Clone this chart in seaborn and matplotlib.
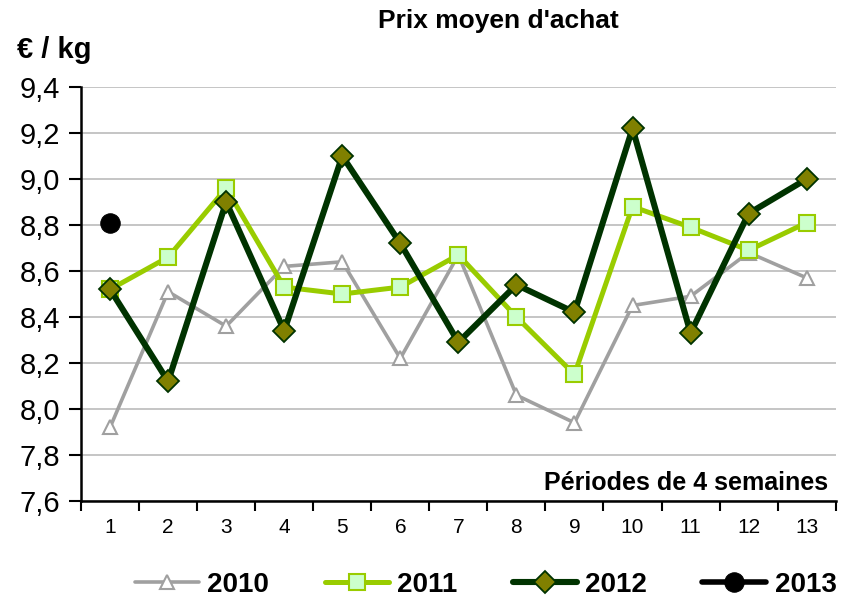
import matplotlib
matplotlib.use("Agg")
import matplotlib.pyplot as plt
from matplotlib.ticker import FixedLocator
import seaborn as sns

sns.set_theme(style="white")
plt.rcParams["font.family"] = ["Liberation Sans", "DejaVu Sans"]
plt.rcParams["text.color"] = "black"
plt.rcParams["xtick.color"] = "black"
plt.rcParams["ytick.color"] = "black"
plt.rcParams["xtick.labelcolor"] = "black"
plt.rcParams["ytick.labelcolor"] = "black"

# Average purchase price per 4-week period (EUR / kg)
periods = list(range(1, 14))
prix_2010 = [7.92, 8.51, 8.36, 8.62, 8.64, 8.22, 8.67, 8.06, 7.94, 8.45, 8.49, 8.68, 8.57]
prix_2011 = [8.52, 8.66, 8.96, 8.53, 8.50, 8.53, 8.67, 8.40, 8.15, 8.88, 8.79, 8.69, 8.81]
prix_2012 = [8.52, 8.12, 8.90, 8.34, 9.10, 8.72, 8.29, 8.54, 8.42, 9.22, 8.33, 8.85, 9.00]
periods_2013 = [1]
prix_2013 = [8.81]

y_ticks = [7.6, 7.8, 8.0, 8.2, 8.4, 8.6, 8.8, 9.0, 9.2, 9.4]
y_tick_labels = ["7,6", "7,8", "8,0", "8,2", "8,4", "8,6", "8,8", "9,0", "9,2", "9,4"]

fig = plt.figure(figsize=(8.45, 6.03), dpi=100)
ax = fig.add_axes([0.0959, 0.1692, 0.8931, 0.6865])

sns.lineplot(x=periods, y=prix_2010, ax=ax, color="#A0A0A0", linewidth=2.6,
             marker="^", markersize=10, markerfacecolor="white",
             markeredgecolor="#A0A0A0", markeredgewidth=1.5, label="2010")
sns.lineplot(x=periods, y=prix_2011, ax=ax, color="#99CC00", linewidth=3.6,
             marker="s", markersize=11, markerfacecolor="#CCFFCC",
             markeredgecolor="#99CC00", markeredgewidth=1.5, label="2011")
sns.lineplot(x=periods, y=prix_2012, ax=ax, color="#003300", linewidth=4.4,
             marker="D", markersize=11, markerfacecolor="#808000",
             markeredgecolor="#003300", markeredgewidth=1.3, label="2012")
sns.lineplot(x=periods_2013, y=prix_2013, ax=ax, color="black", linewidth=4.0,
             marker="o", markersize=14, markerfacecolor="black",
             markeredgecolor="black", label="2013")

ax.set_xlim(0.5, 13.5)
ax.set_ylim(7.6, 9.4)
ax.set_yticks(y_ticks)
ax.set_yticklabels(y_tick_labels, fontsize=21)
ax.set_xticks(periods)
ax.set_xticklabels([str(p) for p in periods], fontsize=15)
ax.xaxis.set_minor_locator(FixedLocator([p + 0.5 for p in range(0, 14)]))
ax.tick_params(axis="x", which="major", length=0, pad=12, labelcolor="black")
ax.tick_params(axis="x", which="minor", length=7, width=1.5, color="black", direction="out", bottom=True)
ax.tick_params(axis="y", which="major", length=9, width=1.5, color="black", direction="out",
               left=True, pad=6, labelcolor="black")

ax.grid(axis="y", color="#C0C0C0", linewidth=1.3)
ax.grid(axis="x", visible=False)
ax.set_axisbelow(True)
for side in ("top", "right"):
    ax.spines[side].set_visible(False)
for side in ("left", "bottom"):
    ax.spines[side].set_color("black")
    ax.spines[side].set_linewidth(1.8)
ax.set_xlabel("")
ax.set_ylabel("")

ax.text(0.99, 0.027, "Périodes de 4 semaines", transform=ax.transAxes,
        ha="right", va="baseline", fontsize=18, fontweight="bold", color="black")
fig.text(0.59, 0.965, "Prix moyen d'achat", ha="center", va="center",
         fontsize=19, fontweight="bold", color="black")
fig.text(0.02, 0.917, "€ / kg", ha="left", va="center", fontsize=21,
         fontweight="bold", color="black")

leg = ax.legend(loc="center", ncol=4, frameon=False, handlelength=2.3, handletextpad=0.3,
                columnspacing=2.0, prop={"weight": "bold", "size": 20}, labelcolor="black")
leg.set_bbox_to_anchor((0.575, 0.03), transform=fig.transFigure)

fig.savefig("out.png", dpi=100)
